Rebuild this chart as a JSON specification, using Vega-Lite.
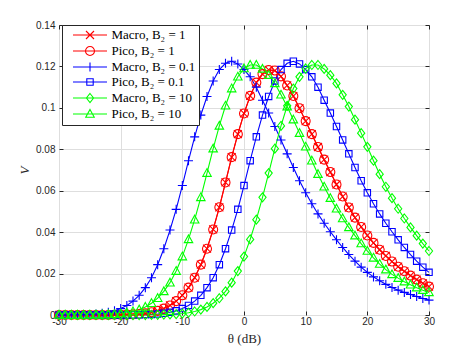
{
"$schema": "https://vega.github.io/schema/vega-lite/v6.json",
"width": 370, "height": 290,
"autosize": {"type": "none"},
"padding": {"left": 59, "top": 25, "right": 44, "bottom": 40},
"background": "white",
"config": {
  "view": {"stroke": "#262626", "strokeWidth": 1},
  "axis": {"labelFont": "Liberation Sans", "labelFontSize": 10, "labelColor": "#262626", "tickColor": "#262626", "domain": false, "labelFlush": false, "labelOverlap": false, "labelBound": false, "gridColor": "#DEDEDE", "gridWidth": 1},
  "point": {"filled": false, "strokeWidth": 1.1, "size": 100, "opacity": 1}
},
"data": {"values": [
{"s":"M1","t":-30,"v":0},{"s":"M1","t":-29,"v":0},{"s":"M1","t":-28,"v":0},{"s":"M1","t":-27,"v":0},{"s":"M1","t":-26,"v":0},{"s":"M1","t":-25,"v":0},{"s":"M1","t":-24,"v":0},{"s":"M1","t":-23,"v":0},{"s":"M1","t":-22,"v":0},{"s":"M1","t":-21,"v":0.0001},{"s":"M1","t":-20,"v":0.0001},{"s":"M1","t":-19,"v":0.0002},{"s":"M1","t":-18,"v":0.0003},{"s":"M1","t":-17,"v":0.0005},{"s":"M1","t":-16,"v":0.0008},{"s":"M1","t":-15,"v":0.0013},{"s":"M1","t":-14,"v":0.002},{"s":"M1","t":-13,"v":0.0031},{"s":"M1","t":-12,"v":0.0046},{"s":"M1","t":-11,"v":0.0067},{"s":"M1","t":-10,"v":0.0095},{"s":"M1","t":-9,"v":0.0132},{"s":"M1","t":-8,"v":0.018},{"s":"M1","t":-7,"v":0.0243},{"s":"M1","t":-6,"v":0.032},{"s":"M1","t":-5,"v":0.0413},{"s":"M1","t":-4,"v":0.052},{"s":"M1","t":-3,"v":0.064},{"s":"M1","t":-2,"v":0.0762},{"s":"M1","t":-1,"v":0.0873},{"s":"M1","t":0,"v":0.0973},{"s":"M1","t":1,"v":0.1058},{"s":"M1","t":2,"v":0.1122},{"s":"M1","t":3,"v":0.1163},{"s":"M1","t":4,"v":0.1183},{"s":"M1","t":5,"v":0.118},{"s":"M1","t":6,"v":0.1152},{"s":"M1","t":7,"v":0.1108},{"s":"M1","t":8,"v":0.1057},{"s":"M1","t":9,"v":0.0998},{"s":"M1","t":10,"v":0.0936},{"s":"M1","t":11,"v":0.0873},{"s":"M1","t":12,"v":0.0811},{"s":"M1","t":13,"v":0.075},{"s":"M1","t":14,"v":0.069},{"s":"M1","t":15,"v":0.063},{"s":"M1","t":16,"v":0.0572},{"s":"M1","t":17,"v":0.0519},{"s":"M1","t":18,"v":0.047},{"s":"M1","t":19,"v":0.0425},{"s":"M1","t":20,"v":0.0384},{"s":"M1","t":21,"v":0.0348},{"s":"M1","t":22,"v":0.0315},{"s":"M1","t":23,"v":0.0285},{"s":"M1","t":24,"v":0.0258},{"s":"M1","t":25,"v":0.0233},{"s":"M1","t":26,"v":0.0211},{"s":"M1","t":27,"v":0.019},{"s":"M1","t":28,"v":0.0171},{"s":"M1","t":29,"v":0.0153},{"s":"M1","t":30,"v":0.0137},
{"s":"P1","t":-30,"v":0},{"s":"P1","t":-29,"v":0},{"s":"P1","t":-28,"v":0},{"s":"P1","t":-27,"v":0},{"s":"P1","t":-26,"v":0},{"s":"P1","t":-25,"v":0},{"s":"P1","t":-24,"v":0},{"s":"P1","t":-23,"v":0},{"s":"P1","t":-22,"v":0},{"s":"P1","t":-21,"v":0.0001},{"s":"P1","t":-20,"v":0.0001},{"s":"P1","t":-19,"v":0.0002},{"s":"P1","t":-18,"v":0.0003},{"s":"P1","t":-17,"v":0.0005},{"s":"P1","t":-16,"v":0.0008},{"s":"P1","t":-15,"v":0.0013},{"s":"P1","t":-14,"v":0.002},{"s":"P1","t":-13,"v":0.0031},{"s":"P1","t":-12,"v":0.0046},{"s":"P1","t":-11,"v":0.0067},{"s":"P1","t":-10,"v":0.0095},{"s":"P1","t":-9,"v":0.0132},{"s":"P1","t":-8,"v":0.018},{"s":"P1","t":-7,"v":0.0243},{"s":"P1","t":-6,"v":0.032},{"s":"P1","t":-5,"v":0.0413},{"s":"P1","t":-4,"v":0.052},{"s":"P1","t":-3,"v":0.064},{"s":"P1","t":-2,"v":0.0762},{"s":"P1","t":-1,"v":0.0873},{"s":"P1","t":0,"v":0.0973},{"s":"P1","t":1,"v":0.1058},{"s":"P1","t":2,"v":0.1122},{"s":"P1","t":3,"v":0.1163},{"s":"P1","t":4,"v":0.1183},{"s":"P1","t":5,"v":0.118},{"s":"P1","t":6,"v":0.1152},{"s":"P1","t":7,"v":0.1108},{"s":"P1","t":8,"v":0.1057},{"s":"P1","t":9,"v":0.0998},{"s":"P1","t":10,"v":0.0936},{"s":"P1","t":11,"v":0.0873},{"s":"P1","t":12,"v":0.0811},{"s":"P1","t":13,"v":0.075},{"s":"P1","t":14,"v":0.069},{"s":"P1","t":15,"v":0.063},{"s":"P1","t":16,"v":0.0572},{"s":"P1","t":17,"v":0.0519},{"s":"P1","t":18,"v":0.047},{"s":"P1","t":19,"v":0.0425},{"s":"P1","t":20,"v":0.0384},{"s":"P1","t":21,"v":0.0348},{"s":"P1","t":22,"v":0.0315},{"s":"P1","t":23,"v":0.0285},{"s":"P1","t":24,"v":0.0258},{"s":"P1","t":25,"v":0.0233},{"s":"P1","t":26,"v":0.0211},{"s":"P1","t":27,"v":0.019},{"s":"P1","t":28,"v":0.0171},{"s":"P1","t":29,"v":0.0153},{"s":"P1","t":30,"v":0.0137},
{"s":"M01","t":-30,"v":0},{"s":"M01","t":-29,"v":0},{"s":"M01","t":-28,"v":0.0001},{"s":"M01","t":-27,"v":0.0001},{"s":"M01","t":-26,"v":0.0002},{"s":"M01","t":-25,"v":0.0003},{"s":"M01","t":-24,"v":0.0005},{"s":"M01","t":-23,"v":0.0008},{"s":"M01","t":-22,"v":0.0013},{"s":"M01","t":-21,"v":0.002},{"s":"M01","t":-20,"v":0.0031},{"s":"M01","t":-19,"v":0.0046},{"s":"M01","t":-18,"v":0.0067},{"s":"M01","t":-17,"v":0.0095},{"s":"M01","t":-16,"v":0.0132},{"s":"M01","t":-15,"v":0.018},{"s":"M01","t":-14,"v":0.0243},{"s":"M01","t":-13,"v":0.032},{"s":"M01","t":-12,"v":0.041},{"s":"M01","t":-11,"v":0.051},{"s":"M01","t":-10,"v":0.0625},{"s":"M01","t":-9,"v":0.0745},{"s":"M01","t":-8,"v":0.086},{"s":"M01","t":-7,"v":0.0965},{"s":"M01","t":-6,"v":0.1055},{"s":"M01","t":-5,"v":0.113},{"s":"M01","t":-4,"v":0.1185},{"s":"M01","t":-3,"v":0.1215},{"s":"M01","t":-2,"v":0.1225},{"s":"M01","t":-1,"v":0.1212},{"s":"M01","t":0,"v":0.1185},{"s":"M01","t":1,"v":0.115},{"s":"M01","t":2,"v":0.11},{"s":"M01","t":3,"v":0.1037},{"s":"M01","t":4,"v":0.0975},{"s":"M01","t":5,"v":0.091},{"s":"M01","t":6,"v":0.0845},{"s":"M01","t":7,"v":0.0778},{"s":"M01","t":8,"v":0.0712},{"s":"M01","t":9,"v":0.0648},{"s":"M01","t":10,"v":0.059},{"s":"M01","t":11,"v":0.0537},{"s":"M01","t":12,"v":0.0488},{"s":"M01","t":13,"v":0.0443},{"s":"M01","t":14,"v":0.0402},{"s":"M01","t":15,"v":0.0363},{"s":"M01","t":16,"v":0.0326},{"s":"M01","t":17,"v":0.0292},{"s":"M01","t":18,"v":0.026},{"s":"M01","t":19,"v":0.0231},{"s":"M01","t":20,"v":0.0206},{"s":"M01","t":21,"v":0.0184},{"s":"M01","t":22,"v":0.0165},{"s":"M01","t":23,"v":0.0148},{"s":"M01","t":24,"v":0.0133},{"s":"M01","t":25,"v":0.012},{"s":"M01","t":26,"v":0.0109},{"s":"M01","t":27,"v":0.0099},{"s":"M01","t":28,"v":0.0089},{"s":"M01","t":29,"v":0.008},{"s":"M01","t":30,"v":0.0072},
{"s":"P01","t":-30,"v":0},{"s":"P01","t":-29,"v":0},{"s":"P01","t":-28,"v":0},{"s":"P01","t":-27,"v":0},{"s":"P01","t":-26,"v":0},{"s":"P01","t":-25,"v":0},{"s":"P01","t":-24,"v":0},{"s":"P01","t":-23,"v":0},{"s":"P01","t":-22,"v":0},{"s":"P01","t":-21,"v":0},{"s":"P01","t":-20,"v":0},{"s":"P01","t":-19,"v":0},{"s":"P01","t":-18,"v":0.0001},{"s":"P01","t":-17,"v":0.0001},{"s":"P01","t":-16,"v":0.0002},{"s":"P01","t":-15,"v":0.0003},{"s":"P01","t":-14,"v":0.0005},{"s":"P01","t":-13,"v":0.0008},{"s":"P01","t":-12,"v":0.0013},{"s":"P01","t":-11,"v":0.002},{"s":"P01","t":-10,"v":0.0031},{"s":"P01","t":-9,"v":0.0046},{"s":"P01","t":-8,"v":0.0067},{"s":"P01","t":-7,"v":0.0095},{"s":"P01","t":-6,"v":0.0132},{"s":"P01","t":-5,"v":0.018},{"s":"P01","t":-4,"v":0.0243},{"s":"P01","t":-3,"v":0.032},{"s":"P01","t":-2,"v":0.041},{"s":"P01","t":-1,"v":0.051},{"s":"P01","t":0,"v":0.0625},{"s":"P01","t":1,"v":0.0745},{"s":"P01","t":2,"v":0.086},{"s":"P01","t":3,"v":0.0965},{"s":"P01","t":4,"v":0.1055},{"s":"P01","t":5,"v":0.113},{"s":"P01","t":6,"v":0.1185},{"s":"P01","t":7,"v":0.1215},{"s":"P01","t":8,"v":0.1225},{"s":"P01","t":9,"v":0.1212},{"s":"P01","t":10,"v":0.1185},{"s":"P01","t":11,"v":0.115},{"s":"P01","t":12,"v":0.11},{"s":"P01","t":13,"v":0.1037},{"s":"P01","t":14,"v":0.0975},{"s":"P01","t":15,"v":0.091},{"s":"P01","t":16,"v":0.0845},{"s":"P01","t":17,"v":0.0778},{"s":"P01","t":18,"v":0.0712},{"s":"P01","t":19,"v":0.0648},{"s":"P01","t":20,"v":0.059},{"s":"P01","t":21,"v":0.0537},{"s":"P01","t":22,"v":0.0488},{"s":"P01","t":23,"v":0.0443},{"s":"P01","t":24,"v":0.0402},{"s":"P01","t":25,"v":0.0363},{"s":"P01","t":26,"v":0.0326},{"s":"P01","t":27,"v":0.0292},{"s":"P01","t":28,"v":0.026},{"s":"P01","t":29,"v":0.0231},{"s":"P01","t":30,"v":0.0206},
{"s":"M10","t":-30,"v":0},{"s":"M10","t":-29,"v":0},{"s":"M10","t":-28,"v":0},{"s":"M10","t":-27,"v":0},{"s":"M10","t":-26,"v":0},{"s":"M10","t":-25,"v":0},{"s":"M10","t":-24,"v":0},{"s":"M10","t":-23,"v":0},{"s":"M10","t":-22,"v":0},{"s":"M10","t":-21,"v":0},{"s":"M10","t":-20,"v":0},{"s":"M10","t":-19,"v":0},{"s":"M10","t":-18,"v":0},{"s":"M10","t":-17,"v":0},{"s":"M10","t":-16,"v":0},{"s":"M10","t":-15,"v":0.0001},{"s":"M10","t":-14,"v":0.0001},{"s":"M10","t":-13,"v":0.0002},{"s":"M10","t":-12,"v":0.0003},{"s":"M10","t":-11,"v":0.0004},{"s":"M10","t":-10,"v":0.0007},{"s":"M10","t":-9,"v":0.0011},{"s":"M10","t":-8,"v":0.0017},{"s":"M10","t":-7,"v":0.0026},{"s":"M10","t":-6,"v":0.0039},{"s":"M10","t":-5,"v":0.0057},{"s":"M10","t":-4,"v":0.0081},{"s":"M10","t":-3,"v":0.0114},{"s":"M10","t":-2,"v":0.0156},{"s":"M10","t":-1,"v":0.0212},{"s":"M10","t":0,"v":0.0282},{"s":"M10","t":1,"v":0.0365},{"s":"M10","t":2,"v":0.046},{"s":"M10","t":3,"v":0.0568},{"s":"M10","t":4,"v":0.0685},{"s":"M10","t":5,"v":0.0803},{"s":"M10","t":6,"v":0.0913},{"s":"M10","t":7,"v":0.101},{"s":"M10","t":8,"v":0.1093},{"s":"M10","t":9,"v":0.115},{"s":"M10","t":10,"v":0.119},{"s":"M10","t":11,"v":0.1207},{"s":"M10","t":12,"v":0.1207},{"s":"M10","t":13,"v":0.1188},{"s":"M10","t":14,"v":0.1158},{"s":"M10","t":15,"v":0.1118},{"s":"M10","t":16,"v":0.1063},{"s":"M10","t":17,"v":0.1006},{"s":"M10","t":18,"v":0.0943},{"s":"M10","t":19,"v":0.0878},{"s":"M10","t":20,"v":0.0812},{"s":"M10","t":21,"v":0.0745},{"s":"M10","t":22,"v":0.068},{"s":"M10","t":23,"v":0.0619},{"s":"M10","t":24,"v":0.0564},{"s":"M10","t":25,"v":0.0513},{"s":"M10","t":26,"v":0.0466},{"s":"M10","t":27,"v":0.0423},{"s":"M10","t":28,"v":0.0383},{"s":"M10","t":29,"v":0.0345},{"s":"M10","t":30,"v":0.0309},
{"s":"P10","t":-30,"v":0},{"s":"P10","t":-29,"v":0},{"s":"P10","t":-28,"v":0},{"s":"P10","t":-27,"v":0},{"s":"P10","t":-26,"v":0},{"s":"P10","t":-25,"v":0.0001},{"s":"P10","t":-24,"v":0.0001},{"s":"P10","t":-23,"v":0.0002},{"s":"P10","t":-22,"v":0.0003},{"s":"P10","t":-21,"v":0.0004},{"s":"P10","t":-20,"v":0.0007},{"s":"P10","t":-19,"v":0.0011},{"s":"P10","t":-18,"v":0.0017},{"s":"P10","t":-17,"v":0.0026},{"s":"P10","t":-16,"v":0.0039},{"s":"P10","t":-15,"v":0.0057},{"s":"P10","t":-14,"v":0.0081},{"s":"P10","t":-13,"v":0.0114},{"s":"P10","t":-12,"v":0.0156},{"s":"P10","t":-11,"v":0.0212},{"s":"P10","t":-10,"v":0.0282},{"s":"P10","t":-9,"v":0.0365},{"s":"P10","t":-8,"v":0.046},{"s":"P10","t":-7,"v":0.0568},{"s":"P10","t":-6,"v":0.0685},{"s":"P10","t":-5,"v":0.0803},{"s":"P10","t":-4,"v":0.0913},{"s":"P10","t":-3,"v":0.101},{"s":"P10","t":-2,"v":0.1093},{"s":"P10","t":-1,"v":0.115},{"s":"P10","t":0,"v":0.119},{"s":"P10","t":1,"v":0.1207},{"s":"P10","t":2,"v":0.1207},{"s":"P10","t":3,"v":0.1188},{"s":"P10","t":4,"v":0.1158},{"s":"P10","t":5,"v":0.1118},{"s":"P10","t":6,"v":0.1063},{"s":"P10","t":7,"v":0.1006},{"s":"P10","t":8,"v":0.0943},{"s":"P10","t":9,"v":0.0878},{"s":"P10","t":10,"v":0.0812},{"s":"P10","t":11,"v":0.0745},{"s":"P10","t":12,"v":0.068},{"s":"P10","t":13,"v":0.0619},{"s":"P10","t":14,"v":0.0564},{"s":"P10","t":15,"v":0.0513},{"s":"P10","t":16,"v":0.0466},{"s":"P10","t":17,"v":0.0423},{"s":"P10","t":18,"v":0.0383},{"s":"P10","t":19,"v":0.0345},{"s":"P10","t":20,"v":0.0309},{"s":"P10","t":21,"v":0.0276},{"s":"P10","t":22,"v":0.0246},{"s":"P10","t":23,"v":0.0219},{"s":"P10","t":24,"v":0.0196},{"s":"P10","t":25,"v":0.0178},{"s":"P10","t":26,"v":0.0161},{"s":"P10","t":27,"v":0.0146},{"s":"P10","t":28,"v":0.0132},{"s":"P10","t":29,"v":0.012},{"s":"P10","t":30,"v":0.0109}
]},
"resolve": {"axis": {"x": "independent", "y": "independent"}},
"layer": [
  {
    "mark": {"type": "line", "strokeWidth": 1.1},
    "encoding": {
      "x": {"field": "t", "type": "quantitative", "scale": {"domain": [-30, 30], "nice": false, "zero": false},
        "axis": {"orient": "bottom", "values": [-30, -20, -10, 0, 10, 20, 30], "labelExpr": "'' + datum.value", "grid": true, "tickSize": -4, "labelPadding": 5, "title": "θ (dB)", "titleFont": "Liberation Serif", "titleFontSize": 13, "titleFontWeight": "normal", "titleColor": "#262626", "titlePadding": 6}},
      "y": {"field": "v", "type": "quantitative", "scale": {"domain": [0, 0.14], "nice": false},
        "axis": {"orient": "left", "values": [0, 0.02, 0.04, 0.06, 0.08, 0.1, 0.12, 0.14], "format": "~g", "grid": true, "tickSize": -4, "labelPadding": 8, "title": "V", "titleFont": "Liberation Serif", "titleFontStyle": "italic", "titleFontSize": 13, "titleFontWeight": "normal", "titleColor": "#262626", "titlePadding": 4}},
      "color": {"field": "s", "type": "nominal",
        "scale": {"domain": ["M1", "P1", "M01", "P01", "M10", "P10"], "range": ["#FF0000", "#FF0000", "#0000FF", "#0000FF", "#00FF00", "#00FF00"]},
        "legend": {"orient": "none", "legendX": 3, "legendY": 0, "title": null, "padding": 3.5, "strokeColor": "#262626", "fillColor": "white",
          "symbolSize": 100, "symbolStrokeWidth": 1.1, "symbolOffset": 18, "labelFont": "Liberation Serif", "labelFontSize": 13, "labelColor": "black", "labelOffset": 15, "rowPadding": 1,
          "labelExpr": "datum.label == 'M1' ? 'Macro, B₂ = 1' : datum.label == 'P1' ? 'Pico, B₂ = 1' : datum.label == 'M01' ? 'Macro, B₂ = 0.1' : datum.label == 'P01' ? 'Pico, B₂ = 0.1' : datum.label == 'M10' ? 'Macro, B₂ = 10' : 'Pico, B₂ = 10'",
          "encode": {"symbols": {"update": {
            "fill": {"value": "transparent"},
            "shape": {"signal": "datum.value == 'M1' ? 'M-3.4,0L3.4,0M-0.8,-0.8L0.8,0.8M-0.8,0.8L0.8,-0.8' : datum.value == 'P1' ? 'M-3.4,0L3.4,0M0.9,0A0.9,0.9,0,1,1,-0.9,0A0.9,0.9,0,1,1,0.9,0Z' : datum.value == 'M01' ? 'M-3.4,0L3.4,0M0,-0.9L0,0.9' : datum.value == 'P01' ? 'M-3.4,0L3.4,0M-0.64,-0.64L0.64,-0.64L0.64,0.64L-0.64,0.64Z' : datum.value == 'M10' ? 'M-3.4,0L3.4,0M0,-0.9L0.72,0L0,0.9L-0.72,0Z' : 'M-3.4,0L3.4,0M0,-0.9L0.85,0.65L-0.85,0.65Z'"}
          }}}
        }}
    }
  },
  {
    "transform": [{"filter": "datum.s == 'M1'"}],
    "mark": {"type": "point", "shape": "M-0.8,-0.8L0.8,0.8M-0.8,0.8L0.8,-0.8"},
    "encoding": {
      "x": {"field": "t", "type": "quantitative",
        "axis": {"orient": "top", "values": [-30, -20, -10, 0, 10, 20, 30], "labels": false, "grid": false, "tickSize": -4, "title": null}},
      "y": {"field": "v", "type": "quantitative",
        "axis": {"orient": "right", "values": [0, 0.02, 0.04, 0.06, 0.08, 0.1, 0.12, 0.14], "labels": false, "grid": false, "tickSize": -4, "title": null}},
      "color": {"field": "s", "type": "nominal", "legend": null}
    }
  },
  {
    "transform": [{"filter": "datum.s == 'P1'"}],
    "mark": {"type": "point", "shape": "M0.9,0A0.9,0.9,0,1,1,-0.9,0A0.9,0.9,0,1,1,0.9,0Z"},
    "encoding": {
      "x": {"field": "t", "type": "quantitative", "axis": null},
      "y": {"field": "v", "type": "quantitative", "axis": null},
      "color": {"field": "s", "type": "nominal", "legend": null}
    }
  },
  {
    "transform": [{"filter": "datum.s == 'M01'"}],
    "mark": {"type": "point", "shape": "M-0.9,0L0.9,0M0,-0.9L0,0.9"},
    "encoding": {
      "x": {"field": "t", "type": "quantitative", "axis": null},
      "y": {"field": "v", "type": "quantitative", "axis": null},
      "color": {"field": "s", "type": "nominal", "legend": null}
    }
  },
  {
    "transform": [{"filter": "datum.s == 'P01'"}],
    "mark": {"type": "point", "shape": "M-0.64,-0.64L0.64,-0.64L0.64,0.64L-0.64,0.64Z"},
    "encoding": {
      "x": {"field": "t", "type": "quantitative", "axis": null},
      "y": {"field": "v", "type": "quantitative", "axis": null},
      "color": {"field": "s", "type": "nominal", "legend": null}
    }
  },
  {
    "transform": [{"filter": "datum.s == 'M10'"}],
    "mark": {"type": "point", "shape": "M0,-0.9L0.72,0L0,0.9L-0.72,0Z"},
    "encoding": {
      "x": {"field": "t", "type": "quantitative", "axis": null},
      "y": {"field": "v", "type": "quantitative", "axis": null},
      "color": {"field": "s", "type": "nominal", "legend": null}
    }
  },
  {
    "transform": [{"filter": "datum.s == 'P10'"}],
    "mark": {"type": "point", "shape": "M0,-0.9L0.85,0.65L-0.85,0.65Z"},
    "encoding": {
      "x": {"field": "t", "type": "quantitative", "axis": null},
      "y": {"field": "v", "type": "quantitative", "axis": null},
      "color": {"field": "s", "type": "nominal", "legend": null}
    }
  }
]
}
